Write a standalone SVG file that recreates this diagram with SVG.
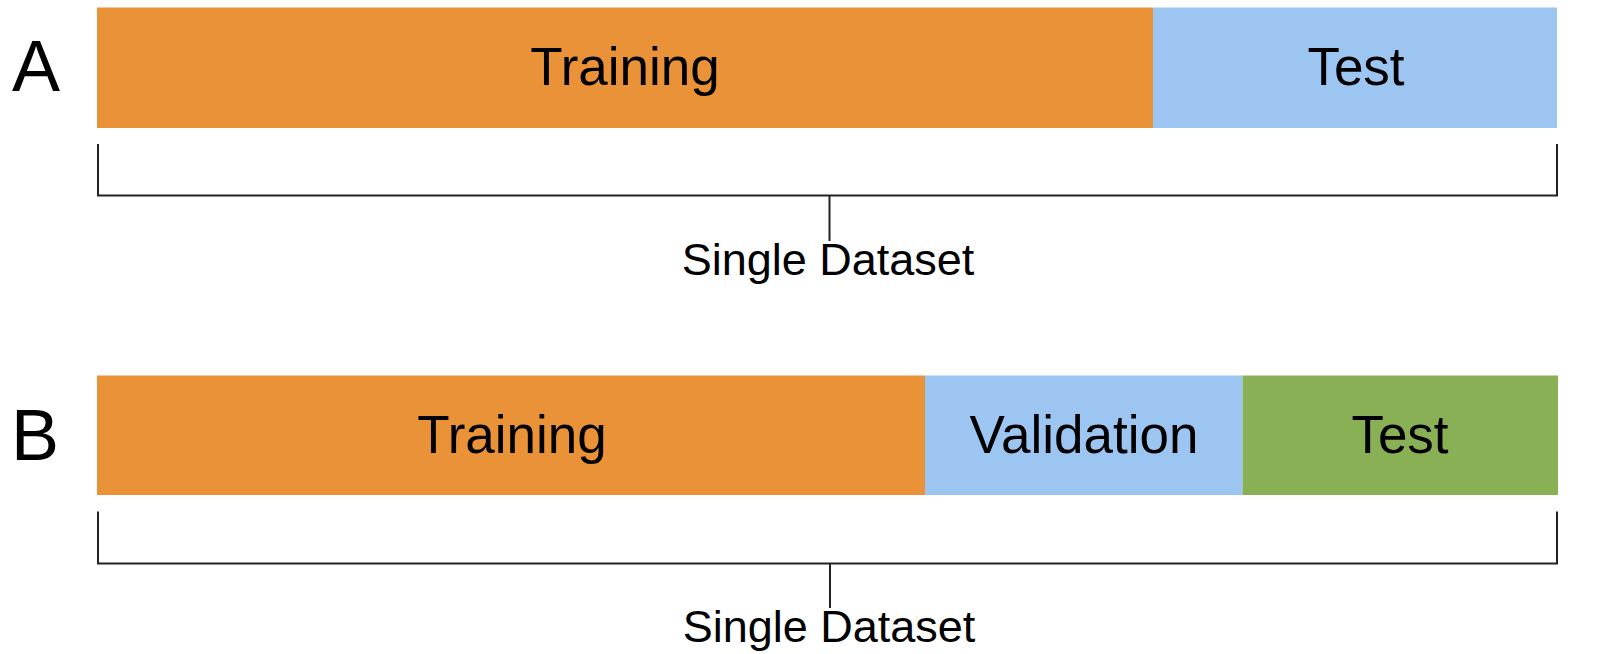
<svg xmlns="http://www.w3.org/2000/svg" width="1598" height="654" viewBox="0 0 1598 654">
  <style>
    text { font-family: "Liberation Sans", Arial, sans-serif; fill: #000; }
    .seg { font-size: 53px; text-anchor: middle; }
    .tag { font-size: 72px; }
    .lbl { font-size: 45px; text-anchor: middle; }
    .train { fill: #EA9237; }
    .valid { fill: #9CC5F1; }
    .test-g { fill: #89B055; }
    .brace { fill: none; stroke: #222; stroke-width: 2; }
  </style>

  <!-- Split A: training / test -->
  <g id="split-a">
    <text class="tag" x="12" y="91">A</text>
    <g id="a-training">
      <rect class="train" x="97" y="7.5" width="1056" height="120.5"/>
      <text class="seg" x="625" y="85">Training</text>
    </g>
    <g id="a-test">
      <rect class="valid" x="1153" y="7.5" width="404" height="120.5"/>
      <text class="seg" x="1356" y="85">Test</text>
    </g>
  </g>

  <!-- Split B: training / validation / test -->
  <g id="split-b">
    <text class="tag" x="11" y="460">B</text>
    <g id="b-training">
      <rect class="train" x="97" y="375.5" width="828" height="119.5"/>
      <text class="seg" x="512" y="453">Training</text>
    </g>
    <g id="b-validation">
      <rect class="valid" x="925" y="375.5" width="317.5" height="119.5"/>
      <text class="seg" x="1084" y="453">Validation</text>
    </g>
    <g id="b-test">
      <rect class="test-g" x="1242.5" y="375.5" width="315.5" height="119.5"/>
      <text class="seg" x="1400" y="453">Test</text>
    </g>
  </g>

  <!-- Brackets spanning each whole dataset -->
  <g id="connectors">
    <path class="brace" d="M98 144 V195.5 H1557 V144 M829.5 195.5 V241"/>
    <path class="brace" d="M98 511.5 V563.5 H1557 V511.5 M830 563.5 V608"/>
  </g>

  <g id="dataset-a">
    <text class="lbl" x="828" y="275">Single Dataset</text>
  </g>
  <g id="dataset-b">
    <text class="lbl" x="829" y="642">Single Dataset</text>
  </g>
</svg>
